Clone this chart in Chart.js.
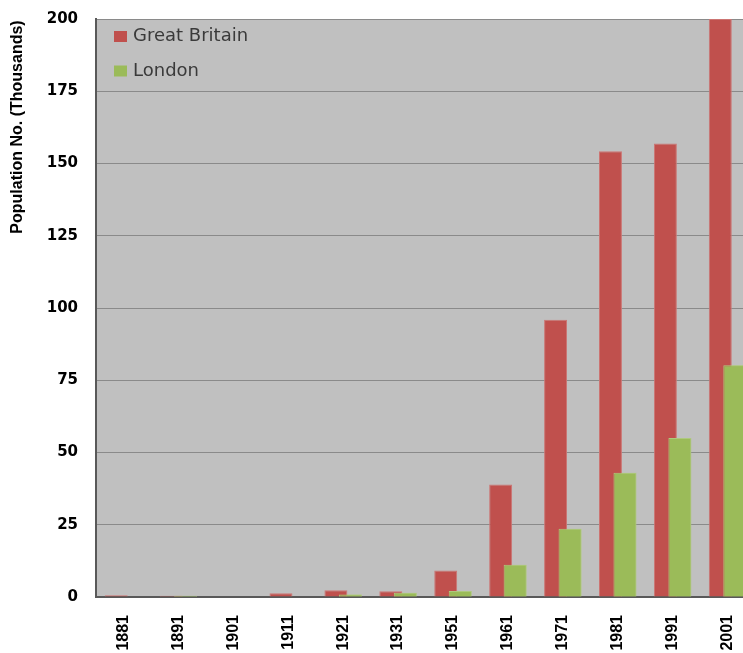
<!DOCTYPE html>
<html>
<head>
<meta charset="utf-8">
<title>Population No. (Thousands)</title>
<script src="https://cdn.jsdelivr.net/npm/chart.js@4.4.1/dist/chart.umd.min.js"></script>
<style>
  html, body { margin: 0; padding: 0; background: #fff; overflow: hidden; }
  #wrap { position: relative; width: 755px; height: 653px; }
</style>
</head>
<body>
<div id="wrap"><canvas id="popChart"></canvas></div>
<script>
// census years on the x axis
const censusYears = ['1881', '1891', '1901', '1911', '1921', '1931', '1951', '1961', '1971', '1981', '1991', '2001'];

// population, thousands
const greatBritain = [0.6, 0.4, 0, 1.3, 2.3, 2.0, 9.2, 38.9, 95.9, 154.2, 156.9, 200];
const london = [0, 0.4, 0, 0, 0.9, 1.5, 2.1, 11.2, 23.6, 43.0, 55.0, 80.2];

const seriesNames = ['Great Britain', 'London'];
const seriesColors = ['#C0504D', '#9BBB59'];
const seriesEdges = ['#CC7573', '#AEC97E'];

const yMin = 0;
const yMax = 200;
const yStep = 25;
const yTitle = 'Population No. (Thousands)';

document.addEventListener('DOMContentLoaded', function() {
    const ctx = document.getElementById('popChart').getContext('2d');

    // grey fill behind the bars
    const plotBackground = {
        id: 'plotBackground',
        beforeDraw(chart) {
            const { ctx, chartArea: a } = chart;
            ctx.save();
            ctx.fillStyle = '#C0C0C0';
            ctx.fillRect(a.left, a.top, a.right - a.left, a.bottom - a.top);
            ctx.restore();
        }
    };

    // London bars overlap the GB bars, so paint them again on top
    const londonOnTop = {
        id: 'londonOnTop',
        afterDatasetsDraw(chart) {
            const meta = chart.getDatasetMeta(1);
            const a = chart.chartArea;
            const c = chart.ctx;
            c.save();
            c.beginPath();
            c.rect(a.left, a.top, a.right - a.left, a.bottom - a.top);
            c.clip();
            meta.controller.draw();
            c.restore();
        }
    };

    // axis title sits up near the top, not centred on the axis
    const axisTitle = {
        id: 'axisTitle',
        afterDraw(chart) {
            const c = chart.ctx;
            c.save();
            c.translate(18, 127);
            c.rotate(-Math.PI / 2);
            c.font = "bold 16px 'Liberation Sans', sans-serif";
            c.fillStyle = '#000';
            c.textAlign = 'center';
            c.textBaseline = 'middle';
            c.fillText(yTitle, 0, 0);
            c.restore();
        }
    };

    // legend stacked in the top-left corner of the plot
    const cornerLegend = {
        id: 'cornerLegend',
        afterDraw(chart) {
            const c = chart.ctx;
            const a = chart.chartArea;
            c.save();
            c.font = "18px 'DejaVu Sans', sans-serif";
            c.textBaseline = 'middle';
            c.textAlign = 'left';
            chart.data.datasets.forEach((ds, i) => {
                const cy = a.top + 17.5 + i * 34.5;
                c.fillStyle = ds.backgroundColor;
                c.fillRect(a.left + 18, cy - 5.5, 13, 11);
                c.fillStyle = '#3a3a3a';
                c.fillText(ds.label, a.left + 37, cy);
            });
            c.restore();
        }
    };

    const datasets = [greatBritain, london].map((values, i) => ({
        label: seriesNames[i],
        data: values,
        backgroundColor: seriesColors[i],
        borderColor: seriesEdges[i],
        borderWidth: 1,
        categoryPercentage: 0.527,
        barPercentage: 1.586
    }));

    new Chart(ctx, {
        type: 'bar',
        data: {
            labels: censusYears,
            datasets: datasets
        },
        options: {
            responsive: true,
            maintainAspectRatio: false,
            animation: false,
            layout: {
                padding: { top: 19, left: 0, right: 0, bottom: 0 }
            },
            plugins: {
                legend: { display: false },
                tooltip: { enabled: false }
            },
            scales: {
                x: {
                    grid: { display: false, drawTicks: false },
                    border: { display: true, color: '#595959', width: 2 },
                    ticks: {
                        color: '#000',
                        font: { family: "'Liberation Sans', sans-serif", weight: 'bold', size: 16 },
                        maxRotation: 90,
                        minRotation: 90,
                        padding: 18
                    },
                    afterFit(scale) {
                        scale.height = 56;
                        scale.paddingLeft = 0;
                        scale.paddingRight = 0;
                    }
                },
                y: {
                    min: yMin,
                    max: yMax,
                    grid: { color: '#8a8a8a', lineWidth: 1, drawTicks: false },
                    border: { display: true, color: '#595959', width: 2 },
                    ticks: {
                        stepSize: yStep,
                        color: '#000',
                        font: { family: "'DejaVu Sans', sans-serif", weight: 'bold', size: 15 },
                        padding: 18
                    },
                    afterFit(scale) {
                        scale.width = 96;
                        scale.paddingTop = 0;
                        scale.paddingBottom = 0;
                    }
                }
            }
        },
        plugins: [plotBackground, londonOnTop, axisTitle, cornerLegend]
    });
});
</script>
</body>
</html>
